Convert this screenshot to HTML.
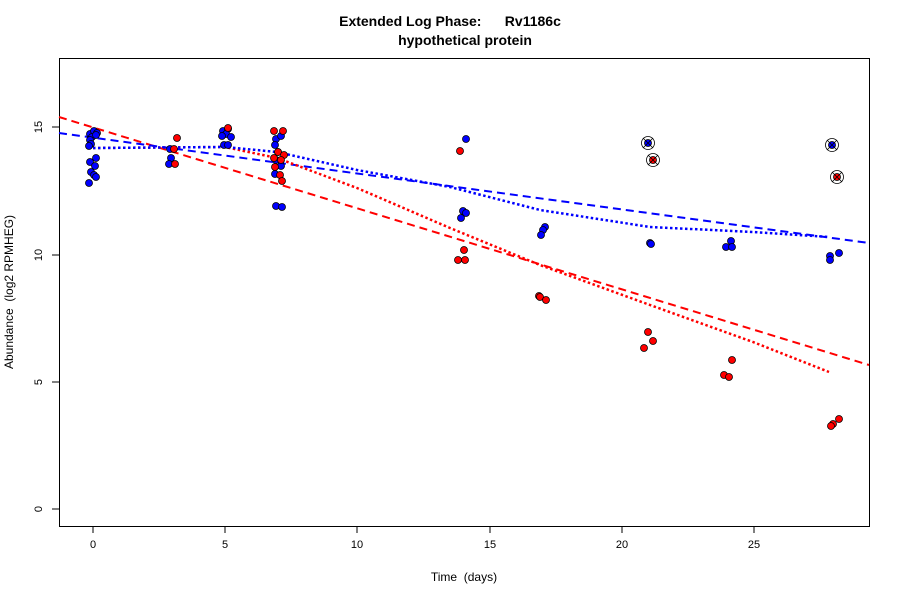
<!DOCTYPE html>
<html><head><meta charset="utf-8"><style>body{margin:0;background:#fff}svg{display:block;font-family:"Liberation Sans",sans-serif}</style></head><body>
<svg width="900" height="600" viewBox="0 0 900 600">
<text x="450" y="26" text-anchor="middle" font-size="14" font-weight="bold" xml:space="preserve">Extended Log Phase:      Rv1186c</text>
<text x="465" y="45" text-anchor="middle" font-size="14" font-weight="bold">hypothetical protein</text>
<rect x="59.5" y="58.5" width="810" height="468" fill="none" stroke="#000"/>
<g stroke="#000" fill="none">
<path d="M93 526v7M225 526v7M357 526v7M490 526v7M622 526v7M754 526v7"/>
<path d="M59 509h-7M59 382h-7M59 255h-7M59 127h-7"/>
</g>
<g font-size="11" text-anchor="middle">
<text x="93" y="548">0</text><text x="225" y="548">5</text><text x="357" y="548">10</text><text x="490" y="548">15</text><text x="622" y="548">20</text><text x="754" y="548">25</text>
<text transform="translate(42,509) rotate(-90)">0</text><text transform="translate(42,382) rotate(-90)">5</text><text transform="translate(42,255) rotate(-90)">10</text><text transform="translate(42,127) rotate(-90)">15</text>
</g>
<text x="464" y="581" text-anchor="middle" font-size="12" xml:space="preserve">Time  (days)</text>
<text transform="translate(13,292) rotate(-90)" text-anchor="middle" font-size="12" xml:space="preserve">Abundance  (log2 RPMHEG)</text>
<g fill="none">
<path d="M59 117L869 365" stroke="red" stroke-width="2" stroke-dasharray="8,5"/>
<path d="M59 133L869 243" stroke="blue" stroke-width="2" stroke-dasharray="8,5"/>
<path d="M93 148L225 147L277 158L357 188L450 228L540 265L650 305L753 342L829 372" stroke="red" stroke-width="2.5" stroke-dasharray="2.5,2.5"/>
<path d="M93 148L225 147L277 152L357 170L450 187L540 210L650 227L753 232L829 237" stroke="blue" stroke-width="2.5" stroke-dasharray="2.5,2.5"/>
</g>
<g stroke="#000" stroke-width="0.8">
<g fill="blue">
<circle cx="90" cy="134" r="3.5"/><circle cx="94" cy="131" r="3.5"/><circle cx="97" cy="133" r="3.5"/><circle cx="92" cy="137" r="3.5"/><circle cx="96" cy="135" r="3.5"/><circle cx="90" cy="140" r="3.5"/><circle cx="91" cy="144" r="3.5"/><circle cx="89" cy="146" r="3.5"/><circle cx="96" cy="158" r="3.5"/><circle cx="90" cy="162" r="3.5"/><circle cx="95" cy="166" r="3.5"/><circle cx="91" cy="172" r="3.5"/><circle cx="94" cy="175" r="3.5"/><circle cx="96" cy="177" r="3.5"/><circle cx="89" cy="183" r="3.5"/>
<circle cx="170" cy="149" r="3.5"/><circle cx="171" cy="158" r="3.5"/><circle cx="169" cy="164" r="3.5"/>
<circle cx="223" cy="131" r="3.5"/><circle cx="228" cy="129" r="3.5"/><circle cx="226" cy="134" r="3.5"/><circle cx="231" cy="137" r="3.5"/><circle cx="222" cy="136" r="3.5"/><circle cx="224" cy="145" r="3.5"/><circle cx="228" cy="145" r="3.5"/>
<circle cx="276" cy="139" r="3.5"/><circle cx="281" cy="136" r="3.5"/><circle cx="275" cy="145" r="3.5"/><circle cx="278" cy="152" r="3.5"/><circle cx="276" cy="160" r="3.5"/><circle cx="281" cy="166" r="3.5"/><circle cx="275" cy="174" r="3.5"/><circle cx="276" cy="206" r="3.5"/><circle cx="282" cy="207" r="3.5"/>
<circle cx="466" cy="139" r="3.5"/><circle cx="463" cy="211" r="3.5"/><circle cx="466" cy="213" r="3.5"/><circle cx="461" cy="218" r="3.5"/>
<circle cx="545" cy="227" r="3.5"/><circle cx="543" cy="230" r="3.5"/><circle cx="541" cy="235" r="3.5"/>
<circle cx="650" cy="243" r="3.5"/><circle cx="651" cy="244" r="3.5"/>
<circle cx="731" cy="241" r="3.5"/><circle cx="726" cy="247" r="3.5"/><circle cx="732" cy="247" r="3.5"/>
<circle cx="830" cy="256" r="3.5"/><circle cx="830" cy="260" r="3.5"/><circle cx="839" cy="253" r="3.5"/>
<circle cx="648" cy="143" r="3.5"/><circle cx="832" cy="145" r="3.5"/>
</g>
<g fill="red">
<circle cx="177" cy="138" r="3.5"/><circle cx="174" cy="149" r="3.5"/><circle cx="175" cy="164" r="3.5"/>
<circle cx="228" cy="128" r="3.5"/>
<circle cx="274" cy="131" r="3.5"/><circle cx="283" cy="131" r="3.5"/><circle cx="278" cy="152" r="3.5"/><circle cx="284" cy="155" r="3.5"/><circle cx="274" cy="158" r="3.5"/><circle cx="281" cy="160" r="3.5"/><circle cx="275" cy="167" r="3.5"/><circle cx="280" cy="175" r="3.5"/><circle cx="282" cy="181" r="3.5"/>
<circle cx="460" cy="151" r="3.5"/><circle cx="464" cy="250" r="3.5"/><circle cx="458" cy="260" r="3.5"/><circle cx="465" cy="260" r="3.5"/>
<circle cx="539" cy="296" r="3.5"/><circle cx="540" cy="297" r="3.5"/><circle cx="546" cy="300" r="3.5"/>
<circle cx="648" cy="332" r="3.5"/><circle cx="653" cy="341" r="3.5"/><circle cx="644" cy="348" r="3.5"/>
<circle cx="732" cy="360" r="3.5"/><circle cx="724" cy="375" r="3.5"/><circle cx="729" cy="377" r="3.5"/>
<circle cx="839" cy="419" r="3.5"/><circle cx="833" cy="424" r="3.5"/><circle cx="831" cy="426" r="3.5"/>
<circle cx="653" cy="160" r="3.5"/><circle cx="837" cy="177" r="3.5"/>
</g>
</g>
<g fill="none" stroke="#000" stroke-width="0.8">
<circle cx="648" cy="143" r="6.5"/><path d="M643 138l10 10M653 138l-10 10"/>
<circle cx="653" cy="160" r="6.5"/><path d="M648 155l10 10M658 155l-10 10"/>
<circle cx="832" cy="145" r="6.5"/><path d="M827 140l10 10M837 140l-10 10"/>
<circle cx="837" cy="177" r="6.5"/><path d="M832 172l10 10M842 172l-10 10"/>
</g>
</svg>
</body></html>
